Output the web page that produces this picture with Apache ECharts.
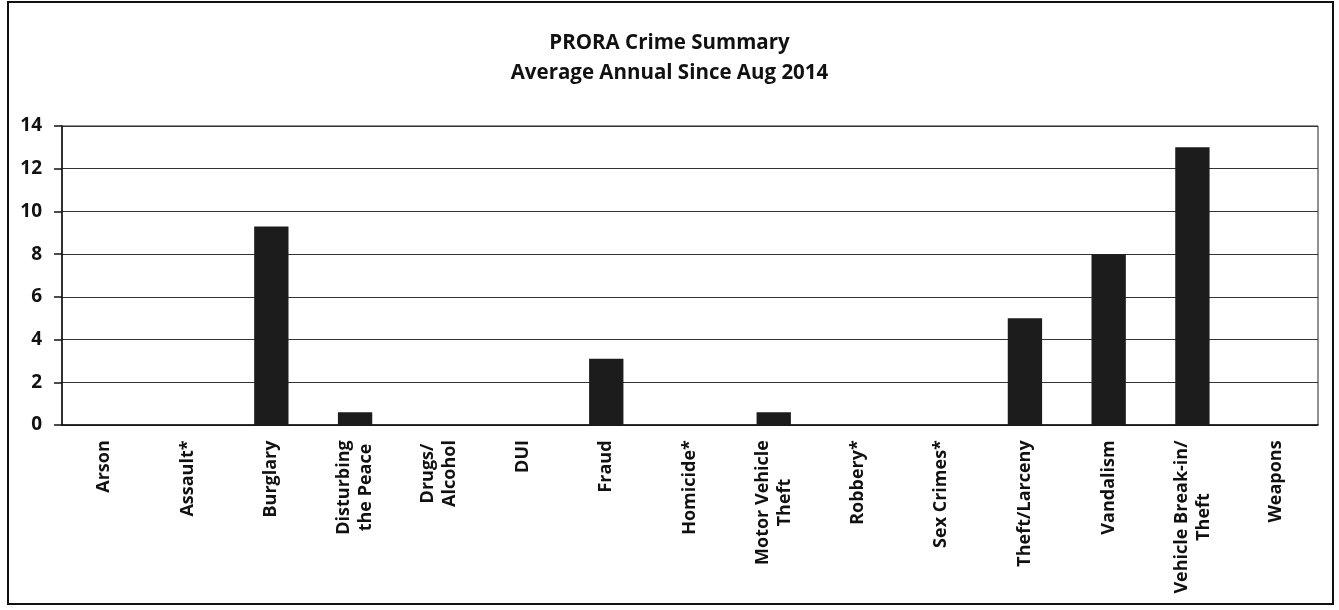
<!DOCTYPE html>
<html>
<head>
<meta charset="utf-8">
<title>PRORA Crime Summary</title>
<script src="https://cdn.jsdelivr.net/npm/echarts@6/dist/echarts.min.js"></script>
<style>
  html, body { margin: 0; padding: 0; background: #fff; }
  #chart { width: 1339px; height: 610px; }
</style>
</head>
<body>
<div id="chart"></div>
<script>
// categories (two-line labels use \n)
var categories = [
  'Arson', 'Assault*', 'Burglary', 'Disturbing\nthe Peace', 'Drugs/\nAlcohol',
  'DUI', 'Fraud', 'Homicide*', 'Motor Vehicle\nTheft', 'Robbery*',
  'Sex Crimes*', 'Theft/Larceny', 'Vandalism', 'Vehicle Break-in/\nTheft', 'Weapons'
]
// average annual count per category
var averages = [0, 0, 9.3, 0.6, 0, 0, 3.1, 0, 0.6, 0, 0, 5.0, 8.0, 13.0, 0]
var yTicks = { min: 0, max: 14, step: 2 }

var FONT = '"Open Sans", "Liberation Sans", sans-serif'
var labelSize = 18

// measure the widest line of each label so lines are centred on each other
var cv = document.createElement('canvas').getContext('2d')
cv.font = 'bold ' + labelSize + 'px ' + FONT
var rich = {}
categories.forEach(function (c, i) {
  var w = 0
  c.split('\n').forEach(function (l) {
    w = Math.max(w, cv.measureText(l).width)
  })
  rich['w' + i] = {
    width: Math.ceil(w) + 2,
    align: 'center',
    fontSize: labelSize,
    fontWeight: 'bold',
    fontFamily: FONT,
    color: '#111',
    lineHeight: 22
  }
})

var chart = echarts.init(document.getElementById('chart'))
var option = {
  animation: false,
  backgroundColor: '#fff',
  title: {
    text: 'PRORA Crime Summary\nAverage Annual Since Aug 2014',
    left: 'center',
    top: 23,
    textStyle: {
      fontFamily: FONT,
      fontSize: 20.5,
      fontWeight: 'bold',
      color: '#111',
      lineHeight: 30
    }
  },
  graphic: [
    {
      type: 'rect',
      shape: { x: 8, y: 2, width: 1325, height: 602 },
      style: { fill: 'none', stroke: '#111', lineWidth: 2 },
      silent: true
    }
  ],
  grid: {
    left: 62,
    right: 21,
    top: 126,
    bottom: 185,
    show: true,
    borderColor: '#222',
    borderWidth: 1
  },
  xAxis: {
    type: 'category',
    data: categories,
    axisLine: { lineStyle: { color: '#111', width: 1.5 } },
    axisTick: { show: false },
    axisLabel: {
      interval: 0,
      rotate: 90,
      margin: 14,
      formatter: function (value, idx) {
        return value.split('\n').map(function (l) {
          return '{w' + idx + '|' + l + '}'
        }).join('\n')
      },
      rich: rich
    }
  },
  yAxis: {
    type: 'value',
    min: yTicks.min,
    max: yTicks.max,
    interval: yTicks.step,
    axisLine: { show: true, lineStyle: { color: '#111', width: 1.5 } },
    axisTick: { show: true, inside: false, length: 8, lineStyle: { color: '#111', width: 1.5 } },
    splitLine: { lineStyle: { color: '#333', width: 1 } },
    axisLabel: {
      margin: 20,
      fontFamily: FONT,
      fontSize: 19,
      fontWeight: 'bold',
      color: '#111'
    }
  },
  series: [
    {
      type: 'bar',
      data: averages,
      barWidth: '41%',
      itemStyle: { color: '#1c1c1c' }
    }
  ]
}
chart.setOption(option)
</script>
</body>
</html>
